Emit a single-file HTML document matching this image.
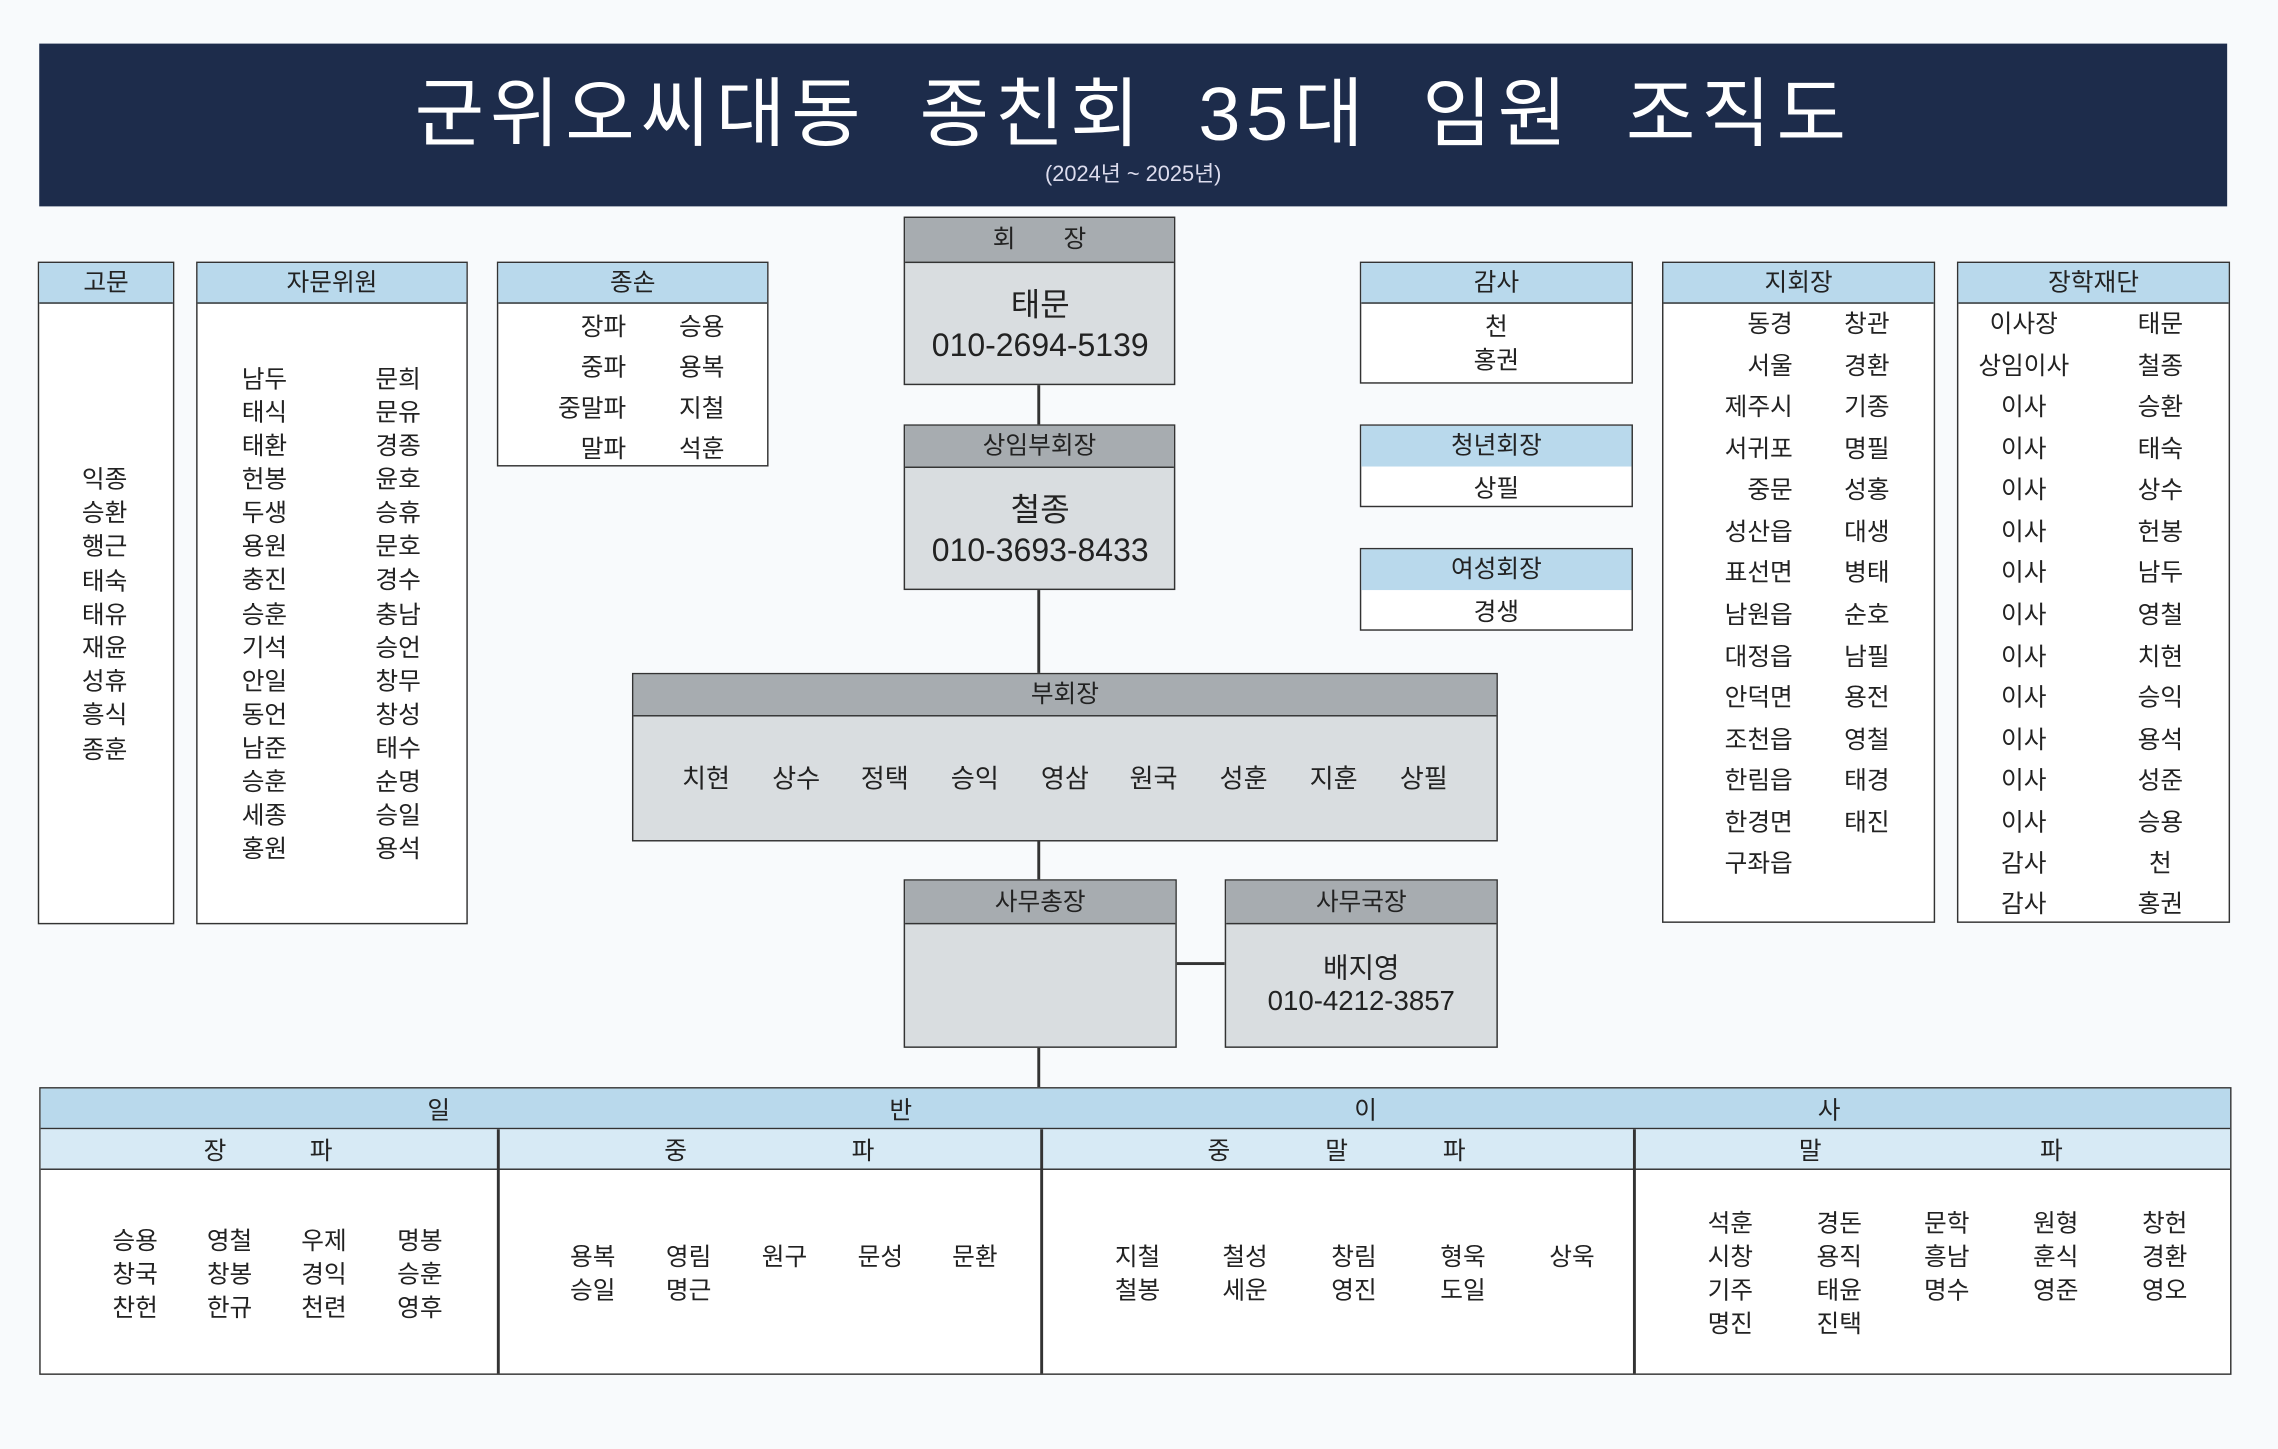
<!DOCTYPE html>
<html><head><meta charset="utf-8">
<style>
html,body{margin:0;padding:0;background:#f8fafc;}
body{width:2278px;height:1449px;overflow:hidden;}
#s{position:absolute;left:0;top:0;width:1568px;height:997px;transform-origin:0 0;transform:scale(1.45281,1.45336);font-family:"Liberation Sans","Noto Sans CJK KR",sans-serif;color:#222;}
.b{position:absolute;border:1.5px solid #333;box-sizing:border-box;background:#fff;}
.h{position:absolute;left:0;right:0;top:0;border-bottom:1.5px solid #333;box-sizing:border-box;background:#b9d9ec;text-align:center;font-size:17px;}
.g{background:#a7acb0;}
.gb{background:#d9dde0;}
.t{position:absolute;transform:translate(-50%,-50%);font-size:17px;white-space:nowrap;}
.r{position:absolute;transform:translate(-100%,-50%);font-size:17px;white-space:nowrap;}
.l{position:absolute;background:#333;}
</style></head><body><div id="s">
<div style="position:absolute;left:27px;top:30px;width:1506px;height:112px;background:#1d2c4b;"></div>
<div class="t" style="left:780px;top:74px;font-size:52px;color:#fff;letter-spacing:4px;word-spacing:18px;">군위오씨대동 종친회 35대 임원 조직도</div>
<div class="t" style="left:780px;top:119px;font-size:15px;color:#dde;">(2024년 ~ 2025년)</div>

<!-- connectors -->
<div class="l" style="left:714px;top:264px;width:2px;height:484px;"></div>
<div class="l" style="left:809px;top:662px;width:34px;height:2px;"></div>

<!-- 고문 -->
<div class="b" style="left:26px;top:180px;width:94px;height:456px;"><div class="h" style="height:28px;line-height:27px;">고문</div></div>
<div class="t" style="left:72px;top:328px">익종</div><div class="t" style="left:72px;top:351px">승환</div><div class="t" style="left:72px;top:374px">행근</div><div class="t" style="left:72px;top:398px">태숙</div><div class="t" style="left:72px;top:421px">태유</div><div class="t" style="left:72px;top:444px">재윤</div><div class="t" style="left:72px;top:467px">성휴</div><div class="t" style="left:72px;top:490px">흥식</div><div class="t" style="left:72px;top:514px">종훈</div>

<!-- 자문위원 -->
<div class="b" style="left:135px;top:180px;width:187px;height:456px;"><div class="h" style="height:28px;line-height:27px;">자문위원</div></div>
<div class="t" style="left:182px;top:259px">남두</div><div class="t" style="left:274px;top:259px">문희</div>
<div class="t" style="left:182px;top:282px">태식</div><div class="t" style="left:274px;top:282px">문유</div>
<div class="t" style="left:182px;top:305px">태환</div><div class="t" style="left:274px;top:305px">경종</div>
<div class="t" style="left:182px;top:328px">헌봉</div><div class="t" style="left:274px;top:328px">윤호</div>
<div class="t" style="left:182px;top:351px">두생</div><div class="t" style="left:274px;top:351px">승휴</div>
<div class="t" style="left:182px;top:374px">용원</div><div class="t" style="left:274px;top:374px">문호</div>
<div class="t" style="left:182px;top:397px">충진</div><div class="t" style="left:274px;top:397px">경수</div>
<div class="t" style="left:182px;top:421px">승훈</div><div class="t" style="left:274px;top:421px">충남</div>
<div class="t" style="left:182px;top:444px">기석</div><div class="t" style="left:274px;top:444px">승언</div>
<div class="t" style="left:182px;top:467px">안일</div><div class="t" style="left:274px;top:467px">창무</div>
<div class="t" style="left:182px;top:490px">동언</div><div class="t" style="left:274px;top:490px">창성</div>
<div class="t" style="left:182px;top:513px">남준</div><div class="t" style="left:274px;top:513px">태수</div>
<div class="t" style="left:182px;top:536px">승훈</div><div class="t" style="left:274px;top:536px">순명</div>
<div class="t" style="left:182px;top:559px">세종</div><div class="t" style="left:274px;top:559px">승일</div>
<div class="t" style="left:182px;top:582px">홍원</div><div class="t" style="left:274px;top:582px">용석</div>

<!-- 종손 -->
<div class="b" style="left:342px;top:180px;width:187px;height:141px;"><div class="h" style="height:28px;line-height:27px;">종손</div></div>
<div class="r" style="left:431px;top:223px">장파</div><div class="t" style="left:483px;top:223px">승용</div>
<div class="r" style="left:431px;top:251px">중파</div><div class="t" style="left:483px;top:251px">용복</div>
<div class="r" style="left:431px;top:279px">중말파</div><div class="t" style="left:483px;top:279px">지철</div>
<div class="r" style="left:431px;top:307px">말파</div><div class="t" style="left:483px;top:307px">석훈</div>

<!-- 회장 -->
<div class="b gb" style="left:622px;top:149px;width:187px;height:116px;"><div class="h g" style="height:31px;line-height:29px;">회 &nbsp; &nbsp; &nbsp; 장</div></div>
<div class="t" style="left:716px;top:208px;font-size:22px">태문</div>
<div class="t" style="left:716px;top:238px;font-size:22px">010-2694-5139</div>
<!-- 상임부회장 -->
<div class="b gb" style="left:622px;top:292px;width:187px;height:114px;"><div class="h g" style="height:29px;line-height:28px;">상임부회장</div></div>
<div class="t" style="left:716px;top:349px;font-size:22px">철종</div>
<div class="t" style="left:716px;top:379px;font-size:22px">010-3693-8433</div>
<!-- 부회장 -->
<div class="b gb" style="left:435px;top:463px;width:596px;height:116px;"><div class="h g" style="height:29px;line-height:28px;">부회장</div></div>
<div class="t" style="left:486px;top:535px;font-size:18px">치현</div><div class="t" style="left:548px;top:535px;font-size:18px">상수</div><div class="t" style="left:609px;top:535px;font-size:18px">정택</div><div class="t" style="left:671px;top:535px;font-size:18px">승익</div><div class="t" style="left:733px;top:535px;font-size:18px">영삼</div><div class="t" style="left:794px;top:535px;font-size:18px">원국</div><div class="t" style="left:856px;top:535px;font-size:18px">성훈</div><div class="t" style="left:918px;top:535px;font-size:18px">지훈</div><div class="t" style="left:980px;top:535px;font-size:18px">상필</div>
<!-- 사무총장 -->
<div class="b gb" style="left:622px;top:605px;width:188px;height:116px;"><div class="h g" style="height:30px;line-height:29px;">사무총장</div></div>
<div class="b gb" style="left:843px;top:605px;width:188px;height:116px;"><div class="h g" style="height:30px;line-height:29px;">사무국장</div></div>
<div class="t" style="left:937px;top:665px;font-size:19px">배지영</div>
<div class="t" style="left:937px;top:690px;font-size:19px">010-4212-3857</div>

<!-- 감사 -->
<div class="b" style="left:936px;top:180px;width:188px;height:84px;"><div class="h" style="height:28px;line-height:27px;">감사</div></div>
<div class="t" style="left:1030px;top:223px">천</div><div class="t" style="left:1030px;top:246px">홍권</div>
<div class="b" style="left:936px;top:292px;width:188px;height:57px;"><div class="h" style="height:28px;line-height:27px;border-bottom:none;">청년회장</div></div>
<div class="t" style="left:1030px;top:334px">상필</div>
<div class="b" style="left:936px;top:377px;width:188px;height:57px;"><div class="h" style="height:28px;line-height:27px;border-bottom:none;">여성회장</div></div>
<div class="t" style="left:1030px;top:419px">경생</div>

<!-- 지회장 -->
<div class="b" style="left:1144px;top:180px;width:188px;height:455px;"><div class="h" style="height:28px;line-height:27px;">지회장</div></div>
<div class="r" style="left:1234px;top:221px">동경</div><div class="t" style="left:1285px;top:221px">창관</div>
<div class="r" style="left:1234px;top:250px">서울</div><div class="t" style="left:1285px;top:250px">경환</div>
<div class="r" style="left:1234px;top:278px">제주시</div><div class="t" style="left:1285px;top:278px">기종</div>
<div class="r" style="left:1234px;top:307px">서귀포</div><div class="t" style="left:1285px;top:307px">명필</div>
<div class="r" style="left:1234px;top:335px">중문</div><div class="t" style="left:1285px;top:335px">성홍</div>
<div class="r" style="left:1234px;top:364px">성산읍</div><div class="t" style="left:1285px;top:364px">대생</div>
<div class="r" style="left:1234px;top:392px">표선면</div><div class="t" style="left:1285px;top:392px">병태</div>
<div class="r" style="left:1234px;top:421px">남원읍</div><div class="t" style="left:1285px;top:421px">순호</div>
<div class="r" style="left:1234px;top:450px">대정읍</div><div class="t" style="left:1285px;top:450px">남필</div>
<div class="r" style="left:1234px;top:478px">안덕면</div><div class="t" style="left:1285px;top:478px">용전</div>
<div class="r" style="left:1234px;top:507px">조천읍</div><div class="t" style="left:1285px;top:507px">영철</div>
<div class="r" style="left:1234px;top:535px">한림읍</div><div class="t" style="left:1285px;top:535px">태경</div>
<div class="r" style="left:1234px;top:564px">한경면</div><div class="t" style="left:1285px;top:564px">태진</div>
<div class="r" style="left:1234px;top:592px">구좌읍</div>

<!-- 장학재단 -->
<div class="b" style="left:1347px;top:180px;width:188px;height:455px;"><div class="h" style="height:28px;line-height:27px;">장학재단</div></div>
<div class="t" style="left:1393px;top:221px">이사장</div><div class="t" style="left:1487px;top:221px">태문</div>
<div class="t" style="left:1393px;top:250px">상임이사</div><div class="t" style="left:1487px;top:250px">철종</div>
<div class="t" style="left:1393px;top:278px">이사</div><div class="t" style="left:1487px;top:278px">승환</div>
<div class="t" style="left:1393px;top:307px">이사</div><div class="t" style="left:1487px;top:307px">태숙</div>
<div class="t" style="left:1393px;top:335px">이사</div><div class="t" style="left:1487px;top:335px">상수</div>
<div class="t" style="left:1393px;top:364px">이사</div><div class="t" style="left:1487px;top:364px">헌봉</div>
<div class="t" style="left:1393px;top:392px">이사</div><div class="t" style="left:1487px;top:392px">남두</div>
<div class="t" style="left:1393px;top:421px">이사</div><div class="t" style="left:1487px;top:421px">영철</div>
<div class="t" style="left:1393px;top:450px">이사</div><div class="t" style="left:1487px;top:450px">치현</div>
<div class="t" style="left:1393px;top:478px">이사</div><div class="t" style="left:1487px;top:478px">승익</div>
<div class="t" style="left:1393px;top:507px">이사</div><div class="t" style="left:1487px;top:507px">용석</div>
<div class="t" style="left:1393px;top:535px">이사</div><div class="t" style="left:1487px;top:535px">성준</div>
<div class="t" style="left:1393px;top:564px">이사</div><div class="t" style="left:1487px;top:564px">승용</div>
<div class="t" style="left:1393px;top:592px">감사</div><div class="t" style="left:1487px;top:592px">천</div>
<div class="t" style="left:1393px;top:620px">감사</div><div class="t" style="left:1487px;top:620px">홍권</div>

<!-- 일반이사 -->
<div class="b" style="left:27px;top:748px;width:1509px;height:198px;"></div>
<div style="position:absolute;left:28px;top:749px;width:1507px;height:27px;background:#b9d9ec;border-bottom:1.5px solid #333;"></div>
<div style="position:absolute;left:28px;top:777px;width:1507px;height:27px;background:#d7eaf5;border-bottom:1.5px solid #333;"></div>
<div class="l" style="left:342px;top:777px;width:1.5px;height:168px;"></div>
<div class="l" style="left:716px;top:777px;width:1.5px;height:168px;"></div>
<div class="l" style="left:1124px;top:777px;width:1.5px;height:168px;"></div>
<div class="t" style="left:302px;top:762px">일</div><div class="t" style="left:620px;top:762px">반</div><div class="t" style="left:940px;top:762px">이</div><div class="t" style="left:1259px;top:762px">사</div>
<div class="t" style="left:148px;top:790px">장</div><div class="t" style="left:221px;top:790px">파</div>
<div class="t" style="left:465px;top:790px">중</div><div class="t" style="left:594px;top:790px">파</div>
<div class="t" style="left:839px;top:790px">중</div><div class="t" style="left:920px;top:790px">말</div><div class="t" style="left:1001px;top:790px">파</div>
<div class="t" style="left:1246px;top:790px">말</div><div class="t" style="left:1412px;top:790px">파</div>

<div class="t" style="left:93px;top:852px">승용</div><div class="t" style="left:158px;top:852px">영철</div><div class="t" style="left:223px;top:852px">우제</div><div class="t" style="left:289px;top:852px">명봉</div>
<div class="t" style="left:93px;top:875px">창국</div><div class="t" style="left:158px;top:875px">창봉</div><div class="t" style="left:223px;top:875px">경익</div><div class="t" style="left:289px;top:875px">승훈</div>
<div class="t" style="left:93px;top:898px">찬헌</div><div class="t" style="left:158px;top:898px">한규</div><div class="t" style="left:223px;top:898px">천련</div><div class="t" style="left:289px;top:898px">영후</div>

<div class="t" style="left:408px;top:863px">용복</div><div class="t" style="left:474px;top:863px">영림</div><div class="t" style="left:540px;top:863px">원구</div><div class="t" style="left:606px;top:863px">문성</div><div class="t" style="left:671px;top:863px">문환</div>
<div class="t" style="left:408px;top:886px">승일</div><div class="t" style="left:474px;top:886px">명근</div>

<div class="t" style="left:783px;top:863px">지철</div><div class="t" style="left:857px;top:863px">철성</div><div class="t" style="left:932px;top:863px">창림</div><div class="t" style="left:1007px;top:863px">형욱</div><div class="t" style="left:1082px;top:863px">상욱</div>
<div class="t" style="left:783px;top:886px">철봉</div><div class="t" style="left:857px;top:886px">세운</div><div class="t" style="left:932px;top:886px">영진</div><div class="t" style="left:1007px;top:886px">도일</div>

<div class="t" style="left:1191px;top:840px">석훈</div><div class="t" style="left:1266px;top:840px">경돈</div><div class="t" style="left:1340px;top:840px">문학</div><div class="t" style="left:1415px;top:840px">원형</div><div class="t" style="left:1490px;top:840px">창헌</div>
<div class="t" style="left:1191px;top:863px">시창</div><div class="t" style="left:1266px;top:863px">용직</div><div class="t" style="left:1340px;top:863px">흥남</div><div class="t" style="left:1415px;top:863px">훈식</div><div class="t" style="left:1490px;top:863px">경환</div>
<div class="t" style="left:1191px;top:886px">기주</div><div class="t" style="left:1266px;top:886px">태윤</div><div class="t" style="left:1340px;top:886px">명수</div><div class="t" style="left:1415px;top:886px">영준</div><div class="t" style="left:1490px;top:886px">영오</div>
<div class="t" style="left:1191px;top:909px">명진</div><div class="t" style="left:1266px;top:909px">진택</div>
</div></body></html>
